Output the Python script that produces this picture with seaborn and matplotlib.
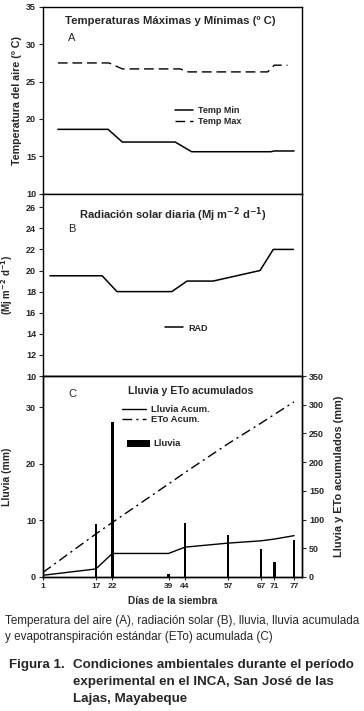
import numpy as np
import pandas as pd
import seaborn as sns
from matplotlib import pyplot as plt

# panel A - temperaturas
tmin_day = [5.5, 20.7, 25, 41, 46, 70, 71, 77]
tmin_val = [18.6, 18.6, 16.9, 16.9, 15.6, 15.6, 15.7, 15.7]
tmax_day = [5.5, 21, 25, 42.5, 45, 69, 71, 75]
tmax_val = [27.5, 27.5, 26.7, 26.7, 26.3, 26.3, 27.2, 27.2]

# panel B - radiacion
rad_day = [3.1, 18.9, 23.4, 40, 44.6, 52.5, 66.7, 70.7, 76.8]
rad_val = [19.5, 19.5, 18.0, 18.0, 19.0, 19.0, 20.0, 22.0, 22.0]

# panel C - lluvia y ETo
days = [1, 17, 22, 39, 44, 57, 67, 71, 77]
lluvia = [0.0, 9.4, 27.3, 0.6, 9.5, 7.4, 5.0, 2.7, 6.6]
lluvia_acum = [3, 14, 41, 41, 52, 59, 63, 66, 72]
eto_acum = [8, 75, 95, 162, 182, 232, 268, 283, 305]

sns.set_style("white")
plt.rcParams['font.family'] = ['Liberation Sans', 'DejaVu Sans']
plt.rcParams['axes.linewidth'] = 1.0

W, H = 364, 711
fig = plt.figure(figsize=(W / 100, H / 100), dpi=100)
x0, x1 = 43, 302
axA = fig.add_axes([x0 / W, 1 - 193.5 / H, (x1 - x0) / W, 186.5 / H])
axB = fig.add_axes([x0 / W, 1 - 376 / H, (x1 - x0) / W, 182.5 / H])
axC = fig.add_axes([x0 / W, 1 - 577 / H, (x1 - x0) / W, 201 / H])
axC2 = axC.twinx()

xlim = (1, 79.4)
tick_fs = 6.5
lab_fs = 7.7
leg_fs = 6.5

for ax in [axA, axB, axC, axC2]:
    for s in ax.spines.values():
        s.set_color("black")
        s.set_linewidth(1.0)
    ax.set_xlim(*xlim)

# ---- A ----
sns.lineplot(x=tmin_day, y=tmin_val, ax=axA, color="black", lw=1.1, label="Temp Min")
sns.lineplot(x=tmax_day, y=tmax_val, ax=axA, color="black", lw=1.0,
             linestyle=(0, (7, 3.5)), label="Temp Max")
axA.set_ylim(10, 35)
axA.set_yticks(range(10, 36, 5))
axA.set_xticks([])
axA.set_ylabel("Temperatura del aire (º C)", fontsize=lab_fs, fontweight="bold", labelpad=3)
axA.text(0.49, 0.925, "Temperaturas Máximas y Mínimas (º C)", transform=axA.transAxes,
         ha="center", va="center", fontsize=8.2, fontweight="bold")
axA.text(0.112, 0.835, "A", transform=axA.transAxes, ha="center", va="center", fontsize=8)
axA.legend(loc="upper left", bbox_to_anchor=(0.51, 0.468), frameon=False,
           prop={"weight": "bold", "size": leg_fs}, handlelength=2.0, handletextpad=0.5,
           labelspacing=0.25, borderpad=0, borderaxespad=0)

# ---- B ----
sns.lineplot(x=rad_day, y=rad_val, ax=axB, color="black", lw=1.1, label="RAD")
axB.set_ylim(10, 27.3)
axB.set_yticks(range(10, 27, 2))
axB.set_xticks([])
axB.set_ylabel("(Mj m$^{\\mathbf{-2}}$ d$^{\\mathbf{-1}}$)", fontsize=7, fontweight="bold", labelpad=8)
axB.text(0.5, 0.885, "Radiación solar diaria (Mj m$^{\\mathbf{-2}}$ d$^{\\mathbf{-1}}$)", transform=axB.transAxes,
         ha="center", va="center", fontsize=8, fontweight="bold")
axB.text(0.112, 0.805, "B", transform=axB.transAxes, ha="center", va="center", fontsize=8)
axB.legend(loc="center left", bbox_to_anchor=(0.471, 0.263), frameon=False,
           prop={"weight": "bold", "size": leg_fs}, handlelength=2.0, handletextpad=0.6,
           borderpad=0, borderaxespad=0)

# ---- C ----
sns.barplot(x=days, y=lluvia, ax=axC, native_scale=True, width=0.19, color="black",
            edgecolor="black", linewidth=0, label="Lluvia")
axC.set_xlim(*xlim)
axC.set_ylim(0, 35.5)
axC.set_yticks([0, 10, 20, 30])
axC.set_xticks(days)
axC.set_xticklabels([str(d) for d in days])
axC.set_ylabel("Lluvia (mm)", fontsize=7.5, fontweight="bold", labelpad=10)
axC.set_xlabel("Días de la siembra", fontsize=7.3, fontweight="bold", labelpad=5)

sns.lineplot(x=days, y=lluvia_acum, ax=axC2, color="black", lw=1.0, label="Lluvia Acum.")
sns.lineplot(x=days, y=eto_acum, ax=axC2, color="black", lw=1.0,
             linestyle=(0, (7, 3, 1.5, 3)), label="ETo Acum.")
axC2.set_ylim(0, 350)
axC2.set_yticks(range(0, 351, 50))
axC2.set_ylabel("Lluvia y ETo acumulados (mm)", fontsize=7.9, fontweight="bold", labelpad=7)
axC.text(0.57, 0.925, "Lluvia y ETo acumulados", transform=axC.transAxes,
         ha="center", va="center", fontsize=7.6, fontweight="bold")
axC.text(0.112, 0.91, "C", transform=axC.transAxes, ha="center", va="center", fontsize=8)

axC2.legend(loc="center left", bbox_to_anchor=(0.305, 0.808), frameon=False,
            prop={"weight": "bold", "size": 6.8}, handlelength=2.5, handletextpad=0.55,
            labelspacing=0.15, borderpad=0, borderaxespad=0)
hb, lb = axC.get_legend_handles_labels()
axC.legend(hb, lb, loc="center left", bbox_to_anchor=(0.324, 0.662), frameon=False,
           prop={"weight": "bold", "size": 6.8}, handlelength=2.4, handleheight=0.8,
           handletextpad=0.45, borderpad=0, borderaxespad=0)

for ax in [axA, axB, axC]:
    ax.tick_params(axis="y", which="both", left=True, direction="out", length=3, width=0.8,
                   labelsize=tick_fs, pad=2)
    for t in ax.get_yticklabels():
        t.set_fontweight("bold")
axC.tick_params(axis="x", bottom=True, direction="inout", length=4, width=0.8, labelsize=tick_fs - 0.5, pad=2)
for t in axC.get_xticklabels():
    t.set_fontweight("bold")
axC2.tick_params(axis="y", right=True, direction="out", length=3, width=0.8, labelsize=tick_fs, pad=2)
for t in axC2.get_yticklabels():
    t.set_fontweight("bold")

# ---- captions ----
cap_fs = 8.4
fig.text(5 / W, 1 - 621 / H, "Temperatura del aire (A), radiación solar (B), lluvia, lluvia acumulada",
         ha="left", va="center", fontsize=cap_fs)
fig.text(5 / W, 1 - 637 / H, "y evapotranspiración estándar (ETo) acumulada (C)",
         ha="left", va="center", fontsize=cap_fs)
fig_fs = 9.6
fig.text(9 / W, 1 - 665 / H, "Figura 1.", ha="left", va="center", fontsize=fig_fs, fontweight="bold")
fig.text(73 / W, 1 - 665 / H, "Condiciones ambientales durante el período",
         ha="left", va="center", fontsize=fig_fs, fontweight="bold")
fig.text(73 / W, 1 - 682 / H, "experimental en el INCA, San José de las",
         ha="left", va="center", fontsize=fig_fs, fontweight="bold")
fig.text(73 / W, 1 - 699 / H, "Lajas, Mayabeque",
         ha="left", va="center", fontsize=fig_fs, fontweight="bold")

fig.savefig("out.png", dpi=100)
